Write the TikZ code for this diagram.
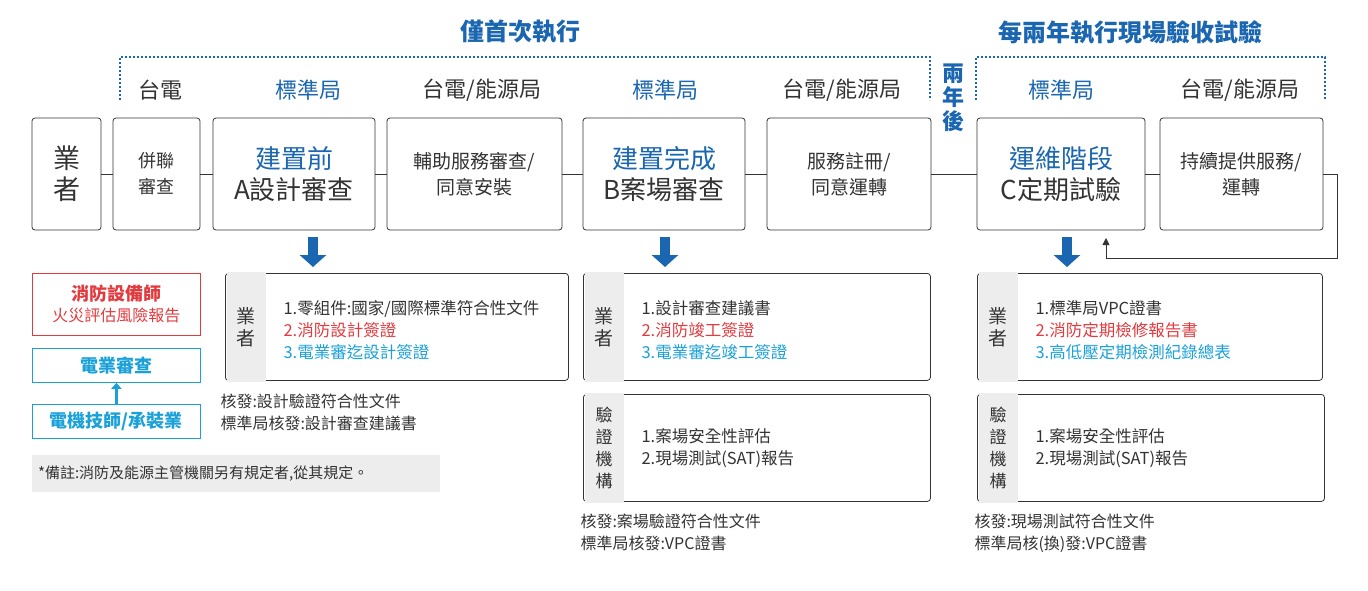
\documentclass[tikz,border=0pt]{standalone}
\usepackage{fontspec}
\setmainfont{Noto Sans CJK TC}
\usetikzlibrary{positioning,calc,arrows.meta}
\definecolor{navy}{HTML}{1A66B0}
\definecolor{sky}{HTML}{1BA1D9}
\definecolor{fire}{HTML}{E23B3F}
\definecolor{ink}{HTML}{333333}
\tikzset{
  stage/.style={draw=ink, thick, rounded corners=3pt, align=center, text=ink, inner sep=0pt, minimum height=112pt},
  org/.style={font=\fontsize{22}{24}\selectfont, text=ink},
  doc/.style={draw=ink, thick, rounded corners=3pt, minimum height=107pt, anchor=north west, inner sep=0pt},
  note/.style={anchor=west, font=\fontsize{16}{18}\selectfont, text=ink, align=left},
  bigdown/.style={navy, line width=10pt, -{Triangle[length=12pt,width=26pt]}},
}
\begin{document}
\begin{tikzpicture}[x=1pt,y=-1pt]
\useasboundingbox (0,0) rectangle (1368,590);
% Titles and brackets
\node[font=\fontsize{24}{26}\selectfont\bfseries, text=navy] (first) at (520,32) {僅首次執行};
\node[font=\fontsize{24}{26}\selectfont\bfseries, text=navy] (every) at (1130,32) {每兩年執行現場驗收試驗};
\draw[navy, very thick, dash pattern=on 2pt off 2pt] (120,100) -- (120,57) -- (930,57) -- (930,100);
\draw[navy, very thick, dash pattern=on 2pt off 2pt] (976,100) -- (976,57) -- (1325,57) -- (1325,100);
\node[font=\fontsize{22}{24}\selectfont\bfseries, text=navy, align=center] (later) at (953,98) {兩\\年\\後};
% Organisations
\node[org] (o1) at (160,90) {台電};
\node[org, text=navy] (o2) at (308,90) {標準局};
\node[org] (o3) at (482,90) {台電/能源局};
\node[org, text=navy] (o4) at (665,90) {標準局};
\node[org] (o5) at (842,90) {台電/能源局};
\node[org, text=navy] (o6) at (1061,90) {標準局};
\node[org] (o7) at (1240,90) {台電/能源局};
% Steps
\node[stage, minimum width=69pt, font=\fontsize{27}{31}\selectfont] (op) at (66.5,174) {業\\者};
\node[stage, minimum width=87pt, font=\fontsize{18}{26}\selectfont] (grid) at (156.5,174) {併聯\\審查};
\node[stage, minimum width=162pt, font=\fontsize{26}{31}\selectfont] (sa) at (294,174) {\textcolor{navy}{建置前}\\A設計審查};
\node[stage, minimum width=175pt, font=\fontsize{19}{26}\selectfont] (aux) at (474.5,174) {輔助服務審查/\\同意安裝};
\node[stage, minimum width=162pt, font=\fontsize{26}{31}\selectfont] (sb) at (664,174) {\textcolor{navy}{建置完成}\\B案場審查};
\node[stage, minimum width=164pt, font=\fontsize{19}{26}\selectfont] (reg) at (849,174) {服務註冊/\\同意運轉};
\node[stage, minimum width=168pt, font=\fontsize{26}{31}\selectfont] (sc) at (1061,174) {\textcolor{navy}{運維階段}\\C定期試驗};
\node[stage, minimum width=163pt, font=\fontsize{19}{26}\selectfont] (run) at (1241.5,174) {持續提供服務/\\運轉};
\foreach \a/\b in {op/grid, grid/sa, sa/aux, aux/sb, sb/reg, reg/sc, sc/run}
  \draw[ink, thick] (\a) -- (\b);
\coordinate (back) at (1106,258);
\draw[ink, thick, -{Triangle[length=7pt,width=7pt]}] (run.east) -| (1337,258) -- (back) -- (1106,238);
% Blue arrows
\draw[bigdown] (313,237) -- (313,267);
\draw[bigdown] (665,237) -- (665,267);
\draw[bigdown] (1067,237) -- (1067,267);
% Left column
\node[draw=fire, thick, minimum width=168pt, minimum height=62pt, align=center, anchor=north west, font=\fontsize{16}{21}\selectfont, text=fire] (fireman) at (32,273) {\fontsize{18}{21}\selectfont\bfseries 消防設備師\\火災評估風險報告};
\node[draw=sky, thick, minimum width=168pt, minimum height=34pt, anchor=north west, font=\fontsize{18}{20}\selectfont\bfseries, text=sky] (elec) at (32,348) {電業審查};
\node[draw=sky, thick, minimum width=168pt, minimum height=34pt, anchor=north west, font=\fontsize{18}{20}\selectfont\bfseries, text=sky] (tech) at (32,404) {電機技師/承裝業};
\draw[sky, line width=3pt, -{Triangle[length=6pt,width=10pt]}] (tech) -- (elec);
\node[fill=black!7, minimum width=408pt, minimum height=37pt, anchor=north west, inner sep=0pt] (memo) at (32,455) {};
\node[note, font=\fontsize{15}{17}\selectfont] at (memo.west) {\,*備註:消防及能源主管機關另有規定者,從其規定。};
% Document boxes
\foreach \nm/\x/\w in {da/225/343, db/583/347, dc/977/345} {
  \node[doc, minimum width=\w pt] (\nm) at (\x,273) {};
  \fill[black!7] ($(\nm.north west)+(1.5,-1.5)$) rectangle ($(\nm.south west)+(41,1.5)$);
  \node[font=\fontsize{19}{22}\selectfont, text=ink, align=center] at ($(\nm.west)+(21,0)$) {業\\者};
}
\foreach \nm/\x in {vb/583, vc/977} {
  \node[doc, minimum width=347pt] (\nm) at (\x,394) {};
  \fill[black!7] ($(\nm.north west)+(1.5,-1.5)$) rectangle ($(\nm.south west)+(41,1.5)$);
  \node[font=\fontsize{17}{22}\selectfont, text=ink, align=center] at ($(\nm.west)+(21,0)$) {驗\\證\\機\\構};
  \node[note, font=\fontsize{16.5}{22}\selectfont] at ($(\nm.west)+(55,0)$) {1.案場安全性評估\\2.現場測試(SAT)報告};
}
\node[note, font=\fontsize{16.5}{22}\selectfont] at ($(da.west)+(55,3)$) {1.零組件:國家/國際標準符合性文件\\\textcolor{fire}{2.消防設計簽證}\\\textcolor{sky}{3.電業審迄設計簽證}};
\node[note, font=\fontsize{16.5}{22}\selectfont] at ($(db.west)+(55,3)$) {1.設計審查建議書\\\textcolor{fire}{2.消防竣工簽證}\\\textcolor{sky}{3.電業審迄竣工簽證}};
\node[note, font=\fontsize{16.5}{22}\selectfont] at ($(dc.west)+(55,3)$) {1.標準局VPC證書\\\textcolor{fire}{2.消防定期檢修報告書}\\\textcolor{sky}{3.高低壓定期檢測紀錄總表}};
% Issued documents
\node[note, font=\fontsize{16}{22}\selectfont, anchor=north west] (ia) at (217,390) {核發:設計驗證符合性文件\\標準局核發:設計審查建議書};
\node[note, font=\fontsize{16}{22}\selectfont, anchor=north west] (ib) at (577,510) {核發:案場驗證符合性文件\\標準局核發:VPC證書};
\node[note, font=\fontsize{16}{22}\selectfont, anchor=north west] (ic) at (971,510) {核發:現場測試符合性文件\\標準局核(換)發:VPC證書};
\end{tikzpicture}
\end{document}
